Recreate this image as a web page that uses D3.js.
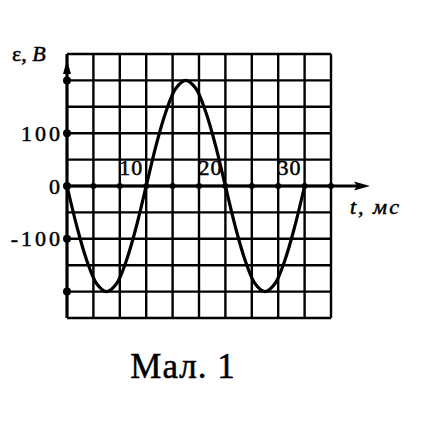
<!DOCTYPE html>
<html>
<head>
<meta charset="utf-8">
<script src="https://cdn.jsdelivr.net/npm/d3@7.8.5/dist/d3.min.js"></script>
<style>
  body { margin: 0; background: #fff; }
  svg { display: block; }
  text { font-family: "Liberation Serif", "DejaVu Serif", serif; fill: #000; stroke: #000; stroke-width: 0.5; }
</style>
</head>
<body>
<svg width="423" height="422"></svg>
<script>
// time, ms (every 1.25 ms)
const tValues = [0, 1.25, 2.5, 3.75, 5, 6.25, 7.5, 8.75, 10, 11.25, 12.5, 13.75, 15,
  16.25, 17.5, 18.75, 20, 21.25, 22.5, 23.75, 25, 26.25, 27.5, 28.75, 30];
// emf, V
const emfValues = [0, -77, -141, -185, -200, -185, -141, -77, 0, 77, 141, 185, 200,
  185, 141, 77, 0, -77, -141, -185, -200, -185, -141, -77, 0];

const xTickLabels = [10, 20, 30];
const yTickLabels = [100, 0, -100];
const yDots = [200, 100, 0, -100, -200];
const xGrid = d3.range(0, 11).map((i) => (i * 10) / 3);
const yGrid = d3.range(-250, 251, 50);

const svg = d3.select("svg");

const x = d3.scaleLinear().domain([0, 100 / 3]).range([67, 331]);
const y = d3.scaleLinear().domain([-250, 250]).range([318, 54]);

// grid
const grid = svg.append("g").attr("stroke", "#000").attr("stroke-width", 2.4);
grid.selectAll("line.v")
  .data(xGrid)
  .enter()
  .append("line")
  .attr("x1", (d) => x(d))
  .attr("x2", (d) => x(d))
  .attr("y1", y(250))
  .attr("y2", y(-250));
grid.selectAll("line.h")
  .data(yGrid)
  .enter()
  .append("line")
  .attr("x1", x(0))
  .attr("x2", x(100 / 3))
  .attr("y1", (d) => y(d))
  .attr("y2", (d) => y(d));

// axes lines (thicker)
svg.append("line")
  .attr("x1", x(0)).attr("x2", 358)
  .attr("y1", y(0)).attr("y2", y(0))
  .attr("stroke", "#000").attr("stroke-width", 3);
svg.append("path")
  .attr("d", `M370,${y(0)} L354,${y(0) - 4.5} L357,${y(0)} L354,${y(0) + 4.5} Z`)
  .attr("fill", "#000");
svg.append("line")
  .attr("x1", x(0)).attr("x2", x(0))
  .attr("y1", y(-250)).attr("y2", y(250))
  .attr("stroke", "#000").attr("stroke-width", 3);
svg.append("path")
  .attr("d", `M${x(0)},60 L${x(0) - 4},74 L${x(0) + 4},74 Z`)
  .attr("fill", "#000");

// dots on axes
svg.append("g")
  .selectAll("circle")
  .data(yDots)
  .enter()
  .append("circle")
  .attr("cx", x(0))
  .attr("cy", (d) => y(d))
  .attr("r", 4)
  .attr("fill", "#000");
svg.append("g")
  .selectAll("circle")
  .data(xGrid.slice(1))
  .enter()
  .append("circle")
  .attr("cx", (d) => x(d))
  .attr("cy", y(0))
  .attr("r", 3)
  .attr("fill", "#000");

// curve
const line = d3.line()
  .x((d, i) => x(tValues[i]))
  .y((d) => y(d))
  .curve(d3.curveCatmullRom);
svg.append("path")
  .datum(emfValues)
  .attr("d", line)
  .attr("fill", "none")
  .attr("stroke", "#000")
  .attr("stroke-width", 3.2);

// y tick labels
svg.append("g")
  .attr("transform", `translate(${x(0)},0)`)
  .call(d3.axisLeft(y).tickValues(yTickLabels).tickSize(0).tickPadding(4).tickFormat((d) => String(d).replace("−", "-")))
  .call((g) => g.select(".domain").remove())
  .selectAll("text")
  .attr("font-size", 22)
  .attr("font-family", "Liberation Serif")
  .attr("letter-spacing", 3);

// x tick labels (left of the line, above the axis)
svg.append("g")
  .selectAll("text")
  .data(xTickLabels)
  .enter()
  .append("text")
  .attr("x", (d) => x(d) - 3)
  .attr("y", y(0) - 11)
  .attr("text-anchor", "end")
  .attr("font-size", 22)
  .attr("letter-spacing", 1)
  .text((d) => d);

// axis titles
svg.append("text")
  .attr("x", 12).attr("y", 61)
  .attr("font-size", 22)
  .html('ε, <tspan font-style="italic">B</tspan>');
svg.append("text")
  .attr("x", 350).attr("y", 214)
  .attr("font-size", 22)
  .attr("font-style", "italic")
  .attr("letter-spacing", 2)
  .text("t, мс");

// caption
svg.append("text")
  .attr("x", 183).attr("y", 378)
  .attr("text-anchor", "middle")
  .attr("font-size", 35)
  .attr("letter-spacing", 1)
  .text("Мал. 1");
</script>
</body>
</html>
